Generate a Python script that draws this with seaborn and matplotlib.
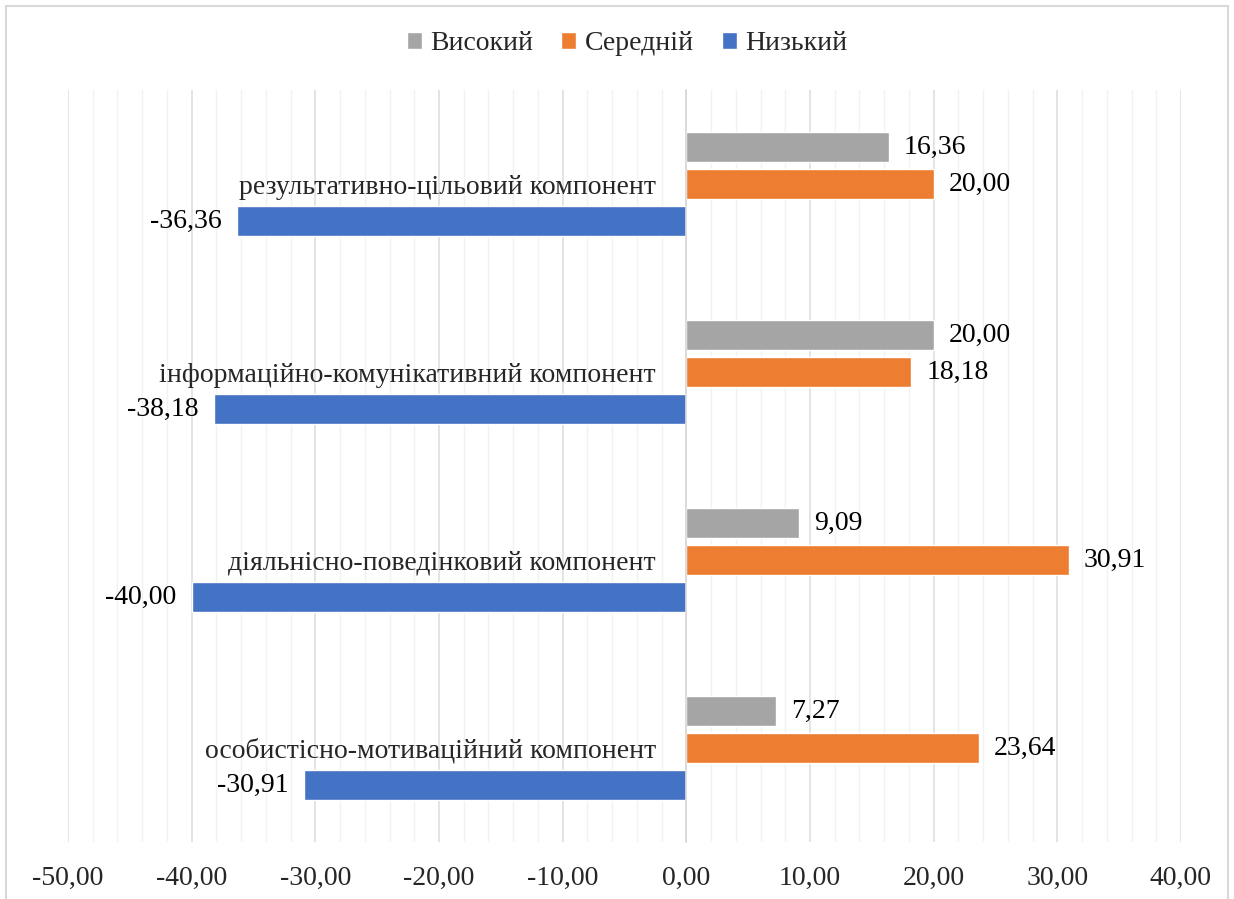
import numpy as np
import pandas as pd
import seaborn as sns
import matplotlib as mpl
from matplotlib import pyplot as plt
from matplotlib.patches import Rectangle
from matplotlib.ticker import MultipleLocator, FuncFormatter, FixedLocator

# Data (top to bottom)
components = [
    "результативно-цільовий компонент",
    "інформаційно-комунікативний компонент",
    "діяльнісно-поведінковий компонент",
    "особистісно-мотиваційний компонент",
]
levels = ["Високий", "Середній", "Низький"]
high = [16.36, 20.00, 9.09, 7.27]
medium = [20.00, 18.18, 30.91, 23.64]
low = [-36.36, -38.18, -40.00, -30.91]

rows = []
for level, values in zip(levels, [high, medium, low]):
    for comp, v in zip(components, values):
        rows.append((comp, level, v))
df = pd.DataFrame(rows, columns=["component", "level", "value"])

sns.set_style("white")
plt.rcParams["font.family"] = ["Liberation Serif", "DejaVu Serif"]
FS = 20

palette = {"Високий": "#A5A5A5", "Середній": "#ED7D31", "Низький": "#4472C4"}

fig = plt.figure(figsize=(12.34, 8.99), dpi=100)
ax = fig.add_axes([68 / 1234, 1 - 842 / 899, (1181 - 68) / 1234, (842 - 90) / 899])

sns.barplot(data=df, y="component", x="value", hue="level", order=components,
            hue_order=levels, palette=palette, orient="h", width=0.59, gap=0.19,
            saturation=1, ax=ax, legend=True)

def comma(v, pos=None):
    return f"{v:.2f}".replace(".", ",")

for cont in ax.containers:
    ax.bar_label(cont, labels=[comma(b.get_width()) for b in cont],
                 padding=11, fontsize=FS, color="#000000")

ax.set_xlim(-50, 40)
ax.set_ylim(3.5, -0.5)
ax.xaxis.set_major_locator(MultipleLocator(10))
ax.xaxis.set_minor_locator(MultipleLocator(2))
ax.xaxis.set_major_formatter(FuncFormatter(comma))
ax.grid(axis="x", which="major", color="#dcdcdc", linewidth=1.1)
ax.grid(axis="x", which="minor", color="#f2f2f2", linewidth=1.0)
ax.set_axisbelow(True)

# category axis sits at zero, Excel style
for s in ["top", "right", "bottom"]:
    ax.spines[s].set_visible(False)
ax.spines["left"].set_position(("data", 0))
ax.spines["left"].set_color("#d9d9d9")
ax.spines["left"].set_linewidth(1.2)
ax.yaxis.set_minor_locator(FixedLocator([0.5, 1.5, 2.5, 3.5]))
ax.tick_params(axis="y", which="major", length=0, pad=22, labelsize=FS)
ax.tick_params(axis="y", which="minor", length=9, color="#d9d9d9", width=1.2)
ax.tick_params(axis="x", which="both", length=0, pad=17, labelsize=FS)
ax.set_xlabel("")
ax.set_ylabel("")

handles, labels = ax.get_legend_handles_labels()
ax.legend_.remove()
fig.legend(handles, labels, loc="center", bbox_to_anchor=(627 / 1234, 1 - 44 / 899),
           ncol=3, frameon=False, fontsize=FS, handlelength=0.55, handleheight=0.55,
           handletextpad=0.3, columnspacing=1.0)

# chart area border
fig.patches.append(Rectangle((6 / 1234, -0.05), 1222 / 1234, 1 - 6 / 899 + 0.05,
                             transform=fig.transFigure, fill=False,
                             edgecolor="#d9d9d9", linewidth=1.5))

plt.savefig("out.png", dpi=100)
